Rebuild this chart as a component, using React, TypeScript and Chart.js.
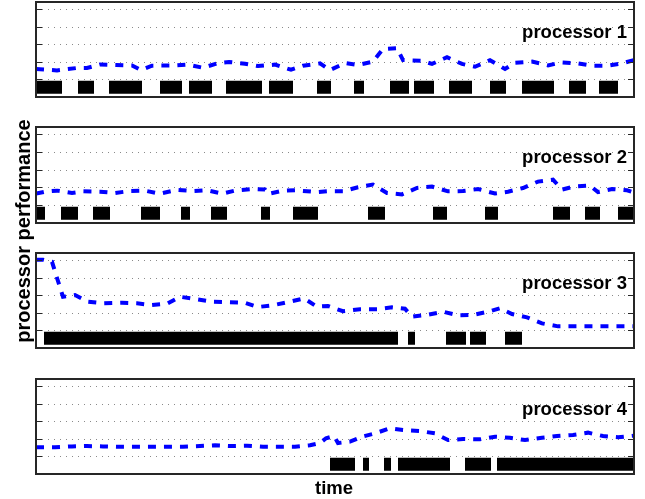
import React, { useEffect, useRef } from "react";
import { Chart, registerables } from "chart.js";

Chart.register(...registerables);

// ---------- data ----------
const TIME_MAX = 598;
const PERF_MAX = 5.4;
const gridValues = [1, 2, 3, 4, 5];
const busyLevel = 0.55;

const panelNames = ["processor 1", "processor 2", "processor 3", "processor 4"];

// processor 1
const p1Time = [0, 21, 41, 51, 64, 80, 96, 105, 116, 136, 152, 167, 182, 193, 209, 222, 239, 255, 267, 284, 294, 309, 322, 337, 347, 361, 367, 386, 396, 411, 426, 439, 454, 469, 479, 496, 512, 526, 542, 556, 572, 586, 598];
const p1Perf = [1.59, 1.51, 1.65, 1.65, 1.85, 1.82, 1.79, 1.53, 1.78, 1.79, 1.84, 1.66, 1.93, 1.99, 1.89, 1.76, 1.84, 1.55, 1.78, 1.91, 1.53, 1.93, 1.82, 2.01, 2.73, 2.78, 2.10, 2.06, 1.88, 2.26, 1.88, 1.72, 2.09, 1.59, 1.95, 2.01, 1.80, 1.97, 1.91, 1.78, 1.78, 1.91, 2.10];
const p1Busy = [[0, 26], [42, 58], [73, 106], [124, 146], [153, 176], [190, 226], [233, 257], [281, 295], [318, 328], [354, 373], [378, 398], [413, 436], [454, 470], [486, 518], [533, 550], [563, 582]];

// processor 2
const p2Time = [0, 9, 21, 36, 47, 64, 79, 94, 109, 124, 141, 157, 171, 186, 199, 217, 229, 232, 247, 260, 276, 282, 291, 307, 322, 337, 351, 366, 381, 396, 412, 427, 442, 459, 472, 487, 502, 517, 526, 539, 554, 562, 576, 591, 598];
const p2Perf = [1.65, 1.76, 1.82, 1.69, 1.78, 1.76, 1.69, 1.80, 1.82, 1.65, 1.86, 1.80, 1.84, 1.65, 1.82, 1.91, 1.88, 1.63, 1.82, 1.84, 1.76, 1.74, 1.78, 1.78, 2.01, 2.16, 1.69, 1.61, 1.97, 2.05, 1.78, 1.80, 1.91, 1.66, 1.76, 1.97, 2.33, 2.44, 1.88, 2.06, 2.10, 1.74, 1.91, 1.84, 1.72];
const p2Busy = [[0, 9], [25, 42], [57, 74], [105, 124], [145, 154], [175, 191], [225, 234], [257, 282], [332, 349], [397, 411], [449, 462], [517, 534], [549, 564], [582, 598]];

// processor 3
const p3Time = [0, 7, 16, 21, 27, 39, 52, 67, 86, 101, 116, 131, 144, 161, 177, 194, 209, 222, 237, 252, 268, 281, 292, 307, 324, 341, 356, 369, 376, 391, 407, 422, 437, 452, 464, 476, 491, 506, 522, 539, 556, 571, 587, 598];
const p3Perf = [5.02, 5.02, 4.90, 3.98, 2.91, 3.01, 2.63, 2.54, 2.57, 2.54, 2.44, 2.52, 2.91, 2.77, 2.63, 2.60, 2.57, 2.33, 2.43, 2.61, 2.82, 2.35, 2.39, 2.09, 2.20, 2.20, 2.31, 2.23, 1.78, 1.88, 2.06, 1.86, 1.88, 2.06, 2.26, 1.93, 1.74, 1.40, 1.23, 1.23, 1.23, 1.23, 1.23, 1.23];
const p3Busy = [[8, 362], [372, 379], [410, 430], [434, 450], [469, 486]];

// processor 4
const p4Time = [0, 19, 36, 51, 67, 84, 101, 116, 131, 147, 164, 179, 194, 211, 227, 242, 259, 274, 284, 290, 298, 302, 314, 326, 339, 354, 367, 384, 399, 412, 427, 444, 459, 474, 489, 506, 521, 537, 552, 567, 582, 598];
const p4Perf = [1.52, 1.52, 1.57, 1.59, 1.57, 1.55, 1.55, 1.55, 1.55, 1.55, 1.59, 1.63, 1.59, 1.61, 1.55, 1.55, 1.55, 1.63, 1.76, 2.03, 2.16, 1.76, 1.84, 2.12, 2.31, 2.60, 2.50, 2.44, 2.31, 1.93, 1.99, 1.97, 2.12, 2.06, 1.93, 2.06, 2.16, 2.22, 2.35, 2.16, 2.09, 2.18];
const p4Busy = [[294, 319], [327, 333], [348, 355], [362, 414], [429, 455], [461, 598]];

const perfTimes = [p1Time, p2Time, p3Time, p4Time];
const perfValues = [p1Perf, p2Perf, p3Perf, p4Perf];
const busyIntervals = [p1Busy, p2Busy, p3Busy, p4Busy];

// ---------- layout ----------
const W = 645;
const H = 499;
const PLOT_LEFT = 36;
const PLOT_RIGHT = 634;
const PAD = 6;
const panelTops = [2, 127, 253, 379];
const panelHeights = [95, 96, 95, 95];
const FONT = '"Liberation Sans", Arial, Helvetica, sans-serif';

function busyPoints(intervals: number[][]) {
  const pts: { x: number; y: number | null }[] = [];
  intervals.forEach(([s, e], i) => {
    if (i > 0) {
      const prevEnd = intervals[i - 1][1];
      pts.push({ x: (prevEnd + s) / 2, y: null });
    }
    pts.push({ x: s, y: busyLevel });
    pts.push({ x: e, y: busyLevel });
  });
  return pts;
}

const framePlugin = {
  id: "matlabFrame",
  beforeDatasetsDraw(chart: any) {
    const { ctx, chartArea, scales } = chart;
    ctx.save();
    ctx.strokeStyle = "#8a8a8a";
    ctx.lineWidth = 1;
    ctx.setLineDash([1, 5]);
    gridValues.forEach((v) => {
      const y = Math.round(scales.y.getPixelForValue(v)) + 0.5;
      ctx.beginPath();
      ctx.moveTo(chartArea.left, y);
      ctx.lineTo(chartArea.right, y);
      ctx.stroke();
    });
    ctx.restore();
  },
  afterDatasetsDraw(chart: any) {
    const { ctx, chartArea, scales } = chart;
    ctx.save();
    ctx.setLineDash([]);
    ctx.strokeStyle = "#262626";
    ctx.lineWidth = 1;
    gridValues.forEach((v) => {
      const y = Math.round(scales.y.getPixelForValue(v)) + 0.5;
      ctx.beginPath();
      ctx.moveTo(chartArea.left, y);
      ctx.lineTo(chartArea.left + 6, y);
      ctx.moveTo(chartArea.right, y);
      ctx.lineTo(chartArea.right - 6, y);
      ctx.stroke();
    });
    ctx.lineWidth = 2;
    ctx.strokeRect(
      chartArea.left,
      chartArea.top,
      chartArea.right - chartArea.left,
      chartArea.bottom - chartArea.top
    );
    ctx.restore();
  },
};

function Panel({ index }: { index: number }) {
  const ref = useRef<HTMLCanvasElement | null>(null);
  useEffect(() => {
    if (!ref.current) return;
    const perfData = perfTimes[index].map((t, i) => ({ x: t, y: perfValues[index][i] }));
    const chart = new Chart(ref.current, {
      type: "line",
      data: {
        datasets: [
          {
            label: "busy",
            data: busyPoints(busyIntervals[index]) as any,
            borderColor: "#000000",
            backgroundColor: "#000000",
            borderWidth: 13,
            borderCapStyle: "butt",
            pointRadius: 0,
            spanGaps: false,
            fill: false,
            tension: 0,
          },
          {
            label: "performance",
            data: perfData as any,
            borderColor: "#0000ff",
            borderWidth: 4,
            borderDash: [8, 8],
            borderCapStyle: "butt",
            pointRadius: 0,
            fill: false,
            tension: 0,
          },
        ],
      },
      options: {
        responsive: false,
        animation: false,
        devicePixelRatio: 1,
        layout: { padding: { left: PAD, right: PAD, top: PAD, bottom: PAD } },
        plugins: { legend: { display: false }, tooltip: { enabled: false }, title: { display: false } },
        events: [],
        scales: {
          x: { type: "linear", min: 0, max: TIME_MAX, display: false },
          y: { type: "linear", min: 0, max: PERF_MAX, display: false },
        },
      },
      plugins: [framePlugin],
    });
    return () => chart.destroy();
  }, [index]);

  const top = panelTops[index];
  const h = panelHeights[index];
  return (
    <>
      <canvas
        ref={ref}
        width={PLOT_RIGHT - PLOT_LEFT + 2 * PAD}
        height={h + 2 * PAD}
        style={{
          position: "absolute",
          left: PLOT_LEFT - PAD,
          top: top - PAD,
          width: PLOT_RIGHT - PLOT_LEFT + 2 * PAD,
          height: h + 2 * PAD,
        }}
      />
      <div
        style={{
          position: "absolute",
          left: 400,
          width: 227,
          top: top + 20.6,
          height: 18.5,
          lineHeight: "18.5px",
          fontSize: 18.5,
          fontWeight: "bold",
          fontFamily: FONT,
          textAlign: "right",
          color: "#000",
          whiteSpace: "nowrap",
        }}
      >
        {panelNames[index]}
      </div>
    </>
  );
}

export default function App() {
  return (
    <div
      style={{
        position: "absolute",
        left: 0,
        top: 0,
        width: W,
        height: H,
        background: "#ffffff",
        overflow: "hidden",
      }}
    >
      {[0, 1, 2, 3].map((i) => (
        <Panel key={i} index={i} />
      ))}
      <div
        style={{
          position: "absolute",
          left: 22.5 - 130,
          top: 231 - 10,
          width: 260,
          height: 20,
          lineHeight: "20px",
          fontSize: 20,
          fontWeight: "bold",
          fontFamily: FONT,
          textAlign: "center",
          transform: "rotate(-90deg)",
          whiteSpace: "nowrap",
          color: "#000",
        }}
      >
        processor performance
      </div>
      <div
        style={{
          position: "absolute",
          left: 334 - 60,
          top: 479.3,
          width: 120,
          height: 18.5,
          lineHeight: "18.5px",
          fontSize: 18.5,
          fontWeight: "bold",
          fontFamily: FONT,
          textAlign: "center",
          whiteSpace: "nowrap",
          color: "#000",
        }}
      >
        time
      </div>
    </div>
  );
}
